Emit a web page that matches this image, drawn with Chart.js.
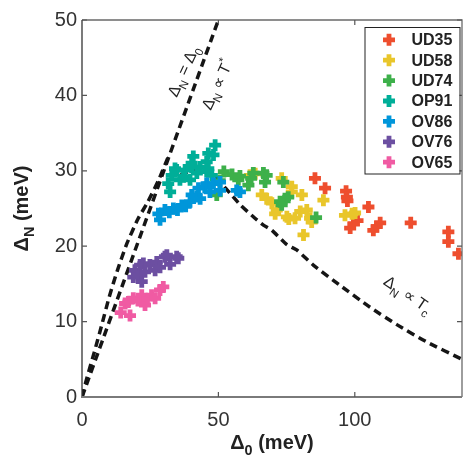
<!DOCTYPE html>
<html>
<head>
<meta charset="utf-8">
<script src="https://cdn.jsdelivr.net/npm/chart.js@4.4.0/dist/chart.umd.min.js"></script>
<style>
  html, body { margin: 0; padding: 0; background: #fff; overflow: hidden; }
  canvas { display: block; }
</style>
</head>
<body>
<canvas id="c" width="464" height="456"></canvas>
<script>
// series: [delta0, deltaN] in meV
const seriesNames = ['UD35', 'UD58', 'UD74', 'OP91', 'OV86', 'OV76', 'OV65'];
const seriesColours = ['#EE4E2E', '#E9C62B', '#3DB04A', '#00AE98', '#0096DA', '#6C4FA1', '#F05BA3'];

const ud35 = [[85.4,29.0],[89.1,27.7],[96.8,27.3],[97.1,26.5],[97.3,26.0],[105.0,25.2],[98.3,22.4],
  [99.5,23.0],[101.0,23.4],[106.8,22.1],[108.0,22.6],[109.3,23.1],[120.5,23.1],[134.3,21.9],
  [134.3,20.6],[138.0,19.0]];
const ud58 = [[61.6,29.4],[63.5,29.6],[65.9,26.8],[67.7,26.3],[69.6,25.7],[70.8,24.3],[71.4,24.8],
  [73.2,29.0],[75.1,23.9],[75.8,23.6],[76.9,27.9],[76.9,27.2],[78.1,23.7],[80.0,24.6],[80.6,26.8],
  [81.2,21.5],[82.4,24.8],[83.6,23.7],[84.2,23.2],[88.5,26.1],[96.4,24.1],[99.0,24.3],[100.1,24.4]];
const ud74 = [[49.4,26.8],[50.5,28.7],[52.0,29.9],[55.0,29.5],[57.3,28.8],[57.9,29.3],[61.0,28.1],
  [62.0,29.0],[62.8,29.7],[66.5,29.7],[67.1,28.5],[67.7,29.4],[72.6,25.9],[73.8,28.5],[74.4,26.3],
  [75.6,26.5],[73.2,25.5],[85.8,23.8]];
const op91 = [[31.6,28.3],[32.3,27.2],[32.9,29.4],[34.1,30.3],[34.7,30.1],[35.9,28.8],[37.2,29.2],
  [37.8,30.1],[39.6,28.8],[40.2,30.5],[40.2,31.0],[40.8,31.9],[42.1,29.7],[43.3,30.5],[45.7,31.2],
  [45.7,29.9],[46.3,32.3],[47.6,29.4],[48.2,32.1],[48.8,33.4],[46.3,30.3]];
const ov86 = [[28.0,24.3],[28.6,23.5],[30.4,24.8],[32.0,24.5],[33.5,25.0],[35.0,24.8],[36.6,25.4],
  [38.0,25.3],[39.6,25.9],[40.2,26.8],[42.0,26.6],[42.7,27.7],[43.3,26.3],[45.0,27.8],[45.7,28.3],
  [46.9,27.2],[48.2,28.3],[50.6,28.5],[50.6,27.4],[56.7,27.4],[57.9,27.2]];
const ov76 = [[18.8,15.9],[19.4,16.8],[20.5,16.2],[21.3,17.5],[21.9,15.3],[22.5,17.7],[23.1,16.6],
  [24.9,17.5],[26.8,16.8],[27.4,17.9],[28.6,17.2],[30.4,18.6],[31.1,18.8],[32.3,17.6],[34.7,18.6],
  [35.3,18.4]];
const ov65 = [[14.2,11.2],[15.8,12.4],[17.0,12.6],[17.6,10.8],[18.8,13.1],[20.5,12.8],[21.9,13.5],
  [23.1,12.2],[24.0,13.0],[25.5,13.5],[26.8,13.1],[28.6,14.2],[29.8,14.6]];
const seriesData = [ud35, ud58, ud74, op91, ov86, ov76, ov65];

// dashed guide curves
const lineEqual = [[0,0],[50,50]];
const lineTstar = [[0,0],[1.7,2.4],[4.4,5.8],[7.2,9.5],[10.0,13.3],[12.9,16.7],[16.4,20.3],
  [20.5,23.6],[24,25.8],[28,28.7],[32,32.2]];
const lineTc = [[36,29.4],[42,30.3],[48,29.5],[54.3,27.0],[58,25.5],[62.8,23.9],[66.5,22.8],
  [69.6,22.1],[75.1,20.2],[78.7,19.5],[84.8,17.5],[94.6,14.8],[105.6,11.9],[115.4,9.6],
  [126.4,7.3],[139.3,5.0]];

const xTicks = [0, 50, 100];
const yTicks = [0, 10, 20, 30, 40, 50];

Chart.defaults.font.family = '"Liberation Sans", Arial, sans-serif';

const toXY = arr => arr.map(p => ({x: p[0], y: p[1]}));

const datasets = seriesData.map((d, i) => ({
    label: seriesNames[i],
    data: toXY(d),
    showLine: false,
    pointStyle: 'cross',
    pointRadius: 6,
    pointBorderWidth: 4.8,
    borderColor: seriesColours[i],
    backgroundColor: seriesColours[i],
    order: 10 - i,
    isSeries: true
}));

[lineEqual, lineTstar, lineTc].forEach(l => {
    datasets.push({
        data: toXY(l),
        showLine: true,
        pointRadius: 0,
        borderColor: '#151515',
        borderWidth: 3.5,
        borderDash: [8, 5],
        tension: 0.2,
        order: 20
    });
});

// draws text with subscripts / superscripts, centred on (x, y), rotated
function drawRich(ctx, parts, x, y, angle, size, bold) {
    const font = s => (bold ? 'bold ' : '') + s + 'px "Liberation Sans", Arial, sans-serif';
    ctx.save();
    ctx.translate(x, y);
    ctx.rotate(angle);
    ctx.textBaseline = 'alphabetic';
    ctx.textAlign = 'left';
    let w = 0;
    parts.forEach(p => {
        ctx.font = font(p.sub || p.sup ? size * 0.72 : size);
        p.w = ctx.measureText(p.t).width;
        w += p.w;
    });
    let cx = -w / 2;
    parts.forEach(p => {
        ctx.font = font(p.sub || p.sup ? size * 0.72 : size);
        const dy = p.sub ? size * 0.3 : (p.sup ? -size * 0.42 : 0);
        ctx.fillText(p.t, cx, dy);
        cx += p.w;
    });
    ctx.restore();
}

const decor = {
    id: 'decor',
    afterDatasetsDraw(chart) {
        const {ctx, chartArea: a, scales: {x, y}} = chart;
        ctx.save();
        // box frame
        ctx.strokeStyle = '#6a6a6a';
        ctx.lineWidth = 1.3;
        ctx.beginPath();
        ctx.moveTo(a.left, a.top); ctx.lineTo(a.right, a.top); ctx.lineTo(a.right, a.bottom);
        ctx.stroke();
        ctx.strokeStyle = '#333';
        ctx.beginPath();
        ctx.moveTo(a.left, a.top); ctx.lineTo(a.left, a.bottom);
        ctx.stroke();
        ctx.strokeStyle = '#7a7a7a';
        ctx.lineWidth = 2;
        ctx.beginPath();
        ctx.moveTo(a.left - 1, a.bottom); ctx.lineTo(a.right, a.bottom);
        ctx.stroke();

        // inward ticks, mirrored on top and right
        ctx.strokeStyle = '#555';
        ctx.lineWidth = 1.2;
        const tl = 5;
        x.ticks.forEach(t => {
            const px = x.getPixelForValue(t.value);
            if (px <= a.left + 1) return;
            ctx.beginPath();
            ctx.moveTo(px, a.bottom); ctx.lineTo(px, a.bottom - tl);
            ctx.moveTo(px, a.top); ctx.lineTo(px, a.top + tl);
            ctx.stroke();
        });
        y.ticks.forEach(t => {
            const py = y.getPixelForValue(t.value);
            if (py >= a.bottom - 1) return;
            ctx.beginPath();
            ctx.moveTo(a.left, py); ctx.lineTo(a.left + tl, py);
            ctx.moveTo(a.right, py); ctx.lineTo(a.right - tl, py);
            ctx.stroke();
        });

        // guide labels
        ctx.fillStyle = '#222';
        const deg = Math.PI / 180;
        drawRich(ctx, [{t: 'Δ'}, {t: 'N', sub: true}, {t: ' = Δ'}, {t: '0', sub: true}],
            x.getPixelForValue(38.9), y.getPixelForValue(43.6) + 5, -65 * deg, 16, false);
        drawRich(ctx, [{t: 'Δ'}, {t: 'N', sub: true}, {t: ' ∝ T'}, {t: '*', sup: true}],
            x.getPixelForValue(51.3), y.getPixelForValue(41.8) + 5, -65 * deg, 16, false);
        drawRich(ctx, [{t: 'Δ'}, {t: 'N', sub: true}, {t: ' ∝ T'}, {t: 'c', sub: true}],
            x.getPixelForValue(118.4), y.getPixelForValue(13.0), 34 * deg, 16, false);

        // axis titles
        drawRich(ctx, [{t: 'Δ'}, {t: '0', sub: true}, {t: ' (meV)'}],
            (a.left + a.right) / 2, 449, 0, 20, true);
        drawRich(ctx, [{t: 'Δ'}, {t: 'N', sub: true}, {t: ' (meV)'}],
            27.5, (a.top + a.bottom) / 2, -90 * deg, 20, true);

        // legend box inside the plot
        const bx = a.right - 97.5, by = a.top + 7, bw = 95, bh = 146.5;
        ctx.fillStyle = '#fff';
        ctx.fillRect(bx, by, bw, bh);
        ctx.strokeStyle = '#222';
        ctx.lineWidth = 1;
        ctx.strokeRect(bx + 0.5, by + 0.5, bw, bh);
        chart.data.datasets.filter(d => d.isSeries).forEach((d, i) => {
            const cx = bx + 24.5, cy = by + 12.8 + i * 20.4;
            ctx.strokeStyle = d.borderColor;
            ctx.lineWidth = 4.8;
            ctx.beginPath();
            ctx.moveTo(cx - 6, cy); ctx.lineTo(cx + 6, cy);
            ctx.moveTo(cx, cy - 6); ctx.lineTo(cx, cy + 6);
            ctx.stroke();
            ctx.fillStyle = '#222';
            ctx.font = 'bold 16px "Liberation Sans", Arial, sans-serif';
            ctx.textBaseline = 'middle';
            ctx.textAlign = 'left';
            ctx.fillText(d.label, bx + 47, cy + 1);
        });
        ctx.restore();
    }
};

new Chart(document.getElementById('c').getContext('2d'), {
    type: 'scatter',
    data: {datasets: datasets},
    options: {
        responsive: false,
        animation: false,
        devicePixelRatio: 1,
        events: [],
        layout: {autoPadding: false, padding: {left: 0, top: 20, right: 2, bottom: 0}},
        plugins: {legend: {display: false}, tooltip: {enabled: false}},
        scales: {
            x: {
                type: 'linear', min: 0, max: 139.3,
                afterBuildTicks: s => { s.ticks = xTicks.map(v => ({value: v})); },
                afterFit: s => { s.height = 59; s.paddingLeft = 0; s.paddingRight = 0; },
                grid: {display: false, drawTicks: false},
                border: {display: false},
                ticks: {padding: 11, color: '#333', font: {size: 20}, maxRotation: 0}
            },
            y: {
                type: 'linear', min: 0, max: 50,
                afterBuildTicks: s => { s.ticks = yTicks.map(v => ({value: v})); },
                afterFit: s => { s.width = 82; s.paddingTop = 0; s.paddingBottom = 0; },
                grid: {display: false, drawTicks: false},
                border: {display: false},
                ticks: {padding: 5, color: '#333', font: {size: 20}}
            }
        }
    },
    plugins: [decor]
});
</script>
</body>
</html>
